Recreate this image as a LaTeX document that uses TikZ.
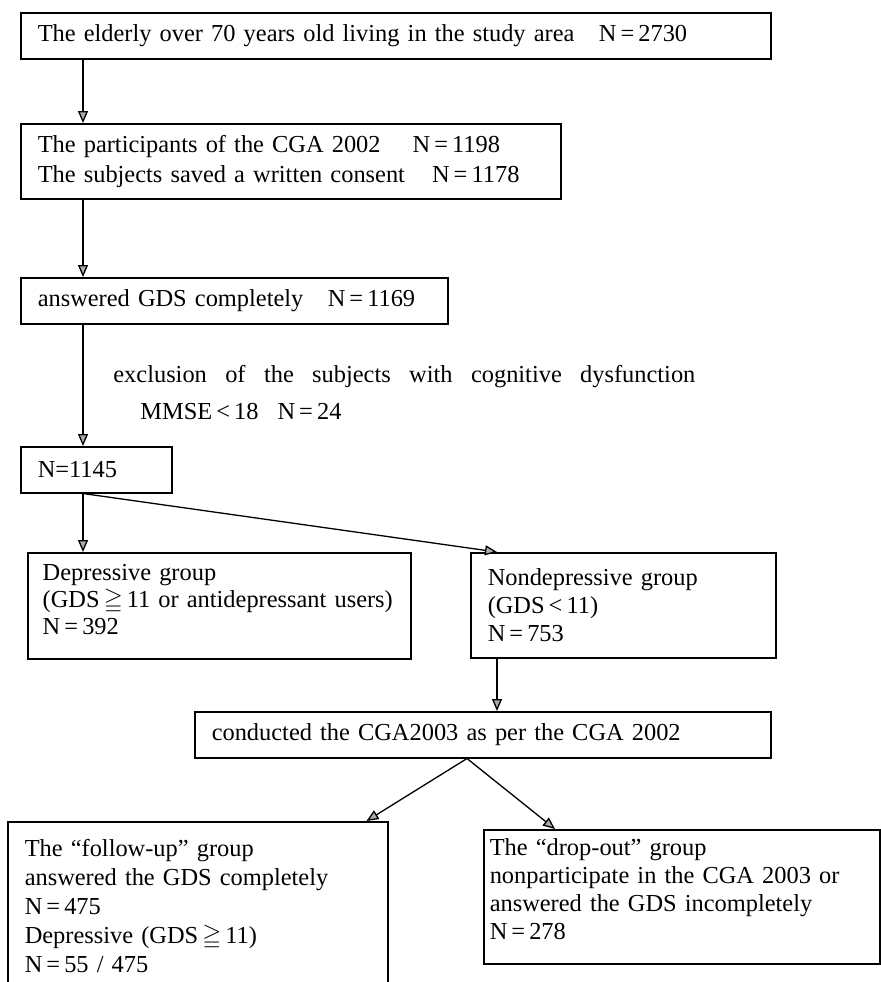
\documentclass[tikz,border=0pt]{standalone}
\usepackage{amssymb}
\usepackage{fontspec}
\setmainfont{Liberation Serif}
\usetikzlibrary{arrows.meta,calc}

\begin{document}
\begin{tikzpicture}[
  x=0.5pt,
  y=-0.5pt,
  >={Triangle[length=6pt,width=5pt,fill=gray!65]},
  flow/.style={->,line width=.65pt},
  stage/.style={draw,line width=.75pt,anchor=north west,align=left,
    inner xsep=8.5pt,inner ysep=0pt,font=\fontsize{12.2}{15}\selectfont},
  note/.style={anchor=base west,inner sep=0pt,font=\fontsize{12.2}{15}\selectfont}
]
\useasboundingbox (0,0) rectangle (881,982);
\clip (0,0) rectangle (881,982);

\node[stage,text width=358pt,minimum height=23pt] (elderly) at (20,12)
  {The elderly over 70 years old living in the study area\quad N\,=\,2730};
\node[stage,text width=253pt,minimum height=37.5pt] (participants) at (20,123)
  {The participants of the CGA 2002\hspace{16pt}N\,=\,1198\\
   The subjects saved a written consent\hspace{13.5pt}N\,=\,1178};
\node[stage,text width=196.5pt,minimum height=23pt] (answered) at (20,277)
  {answered GDS completely\quad N\,=\,1169};

\node[note] (exclusion) at (113,382)
  {\makebox[291pt][s]{exclusion of the subjects with cognitive dysfunction}};
\node[note] (mmse) at (140,419) {MMSE\,<\,18\hspace{9.5pt}N\,=\,24};

\node[stage,text width=58.5pt,minimum height=23pt] (n1145) at (20,446) {N=1145};

\node[stage,text width=176.5pt,inner xsep=7.5pt,minimum height=53pt,
  font=\fontsize{12.2}{13.6}\selectfont] (depressive) at (27,552)
  {Depressive group\\\mbox{(GDS\,$\geqq$\,11 or antidepressant users)}\\
   N\,=\,392\rule[-6.5pt]{0pt}{6.5pt}};
\node[stage,text width=135.5pt,minimum height=52.5pt,
  font=\fontsize{12.2}{14}\selectfont] (nondep) at (470,552)
  {Nondepressive group\\(GDS\,<\,11)\\N\,=\,753};

\node[stage,text width=271pt,minimum height=23pt] (conducted) at (194,711)
  {conducted the CGA2003 as per the CGA 2002};

\node[stage,text width=173pt,minimum height=84pt,
  font=\fontsize{12.2}{14.5}\selectfont] (followup) at (7,821)
  {The ``follow-up'' group\\answered the GDS completely\\N\,=\,475\\
   Depressive (GDS\,$\geqq$\,11)\\N\,=\,55 / 475};
\node[stage,text width=192pt,inner xsep=3pt,minimum height=67pt,
  font=\fontsize{12.2}{14}\selectfont] (dropout) at (483,829)
  {The ``drop-out'' group\\
   \makebox[192pt][s]{nonparticipate in the CGA 2003 or}\\
   answered the GDS incompletely\\N\,=\,278\rule[-7.5pt]{0pt}{7.5pt}};

\coordinate (stem) at (83,0);
\coordinate (rstem) at (497,0);
\coordinate (split) at (467,0);

\draw[flow] (elderly.south -| stem) -- (participants.north -| stem);
\draw[flow] (participants.south -| stem) -- (answered.north -| stem);
\draw[flow] (answered.south -| stem) -- (n1145.north -| stem);
\draw[flow] (n1145.south -| stem) -- (depressive.north -| stem);
\draw[flow] (n1145.south -| stem) -- (nondep.north -| rstem);
\draw[flow] (nondep.south -| rstem) -- (conducted.north -| rstem);
\draw[flow] (conducted.south -| split) -- ($(followup.north east)+(-22,0)$);
\draw[flow] (conducted.south -| split) -- ($(dropout.north west)+(72,0)$);

\end{tikzpicture}
\end{document}
